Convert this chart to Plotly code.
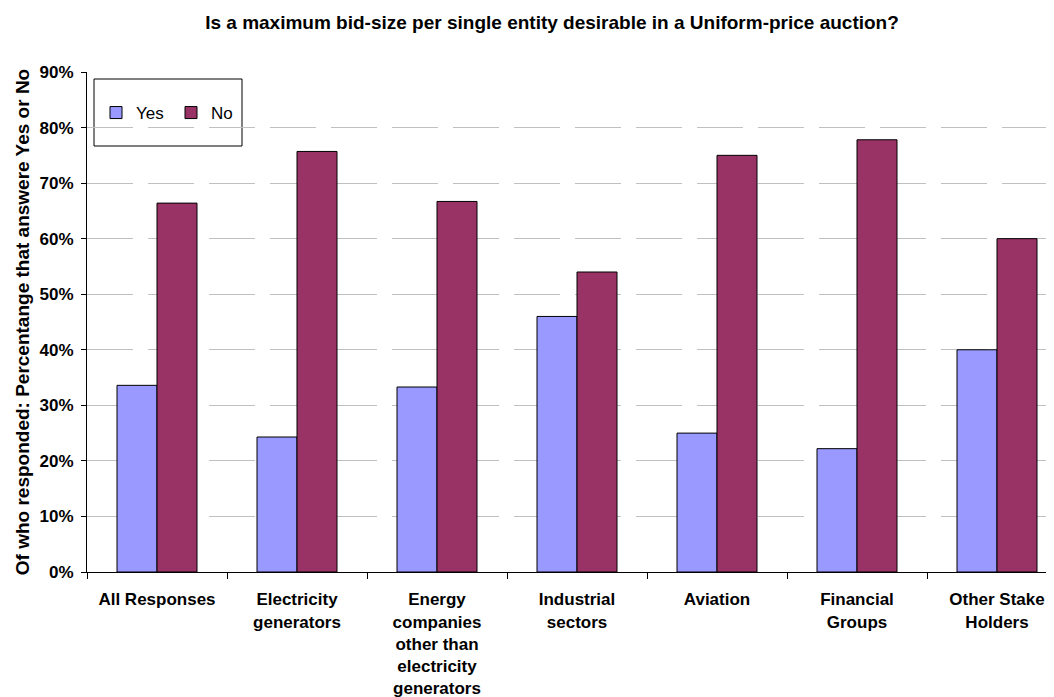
import plotly.graph_objects as go

categories = [
    "All Responses",
    "Electricity<br>generators",
    "Energy<br>companies<br>other than<br>electricity<br>generators",
    "Industrial<br>sectors",
    "Aviation",
    "Financial<br>Groups",
    "Other Stake<br>Holders",
]
yes_values = [33.6, 24.3, 33.3, 46.0, 25.0, 22.2, 40.0]
no_values = [66.4, 75.7, 66.7, 54.0, 75.0, 77.8, 60.0]
y_ticks = [0, 10, 20, 30, 40, 50, 60, 70, 80, 90]

FONT = "Liberation Sans, Arial, sans-serif"

fig = go.Figure()
fig.add_trace(go.Bar(
    name="Yes", x=categories, y=yes_values,
    marker=dict(color="#9999FF", line=dict(color="#000000", width=1)),
))
fig.add_trace(go.Bar(
    name="No", x=categories, y=no_values,
    marker=dict(color="#993366", line=dict(color="#000000", width=1)),
))

# the page body adds an 8px margin, so the figure is 8px smaller each way
OFF = 8
W, H = 1054 - OFF, 697 - OFF
ml, mr = 87 - OFF, 0
mt = 72 - OFF
mb = H - (572 - OFF)
PW = W - ml - mr
PH = H - mt - mb


def px(x):
    return (x - OFF - ml) / PW


def py(y):
    return (H - mb - (y - OFF)) / PH


fig.update_layout(
    width=W, height=H,
    margin=dict(l=ml, r=mr, t=mt, b=mb, autoexpand=False),
    paper_bgcolor="white", plot_bgcolor="white",
    barmode="group", bargap=0.4286, bargroupgap=0,
    font=dict(family=FONT, color="#000000", size=17),
    title=dict(
        text="<b>Is a maximum bid-size per single entity desirable in a Uniform-price auction?</b>",
        font=dict(size=19, family=FONT, color="#000000"),
        x=(552 - OFF) / W, xanchor="center", xref="container",
        y=1 - (22 - OFF) / H, yanchor="middle", yref="container",
    ),
    showlegend=True,
    legend=dict(
        orientation="h", x=px(96), xanchor="left",
        y=py(113), yanchor="middle",
        bgcolor="rgba(0,0,0,0)", borderwidth=0,
        font=dict(size=17, family=FONT, color="#000000"),
        itemwidth=30, traceorder="normal",
        entrywidth=30, entrywidthmode="pixels",
    ),
    shapes=[dict(
        type="rect", xref="paper", yref="paper",
        x0=px(94), x1=px(242), y0=py(146), y1=py(79),
        line=dict(color="#000000", width=1), fillcolor="white", layer="below",
    )],
)

fig.update_xaxes(
    type="category",
    range=[-0.5, -0.5 + PW / 140.0],
    showline=True, linecolor="#000000", linewidth=1,
    ticks="outside", tickson="boundaries", ticklen=6, tickcolor="#000000",
    showgrid=False, zeroline=False,
    tickfont=dict(size=17, family=FONT, color="#000000"),
    ticklabelstandoff=12,
    tickangle=0,
    tickvals=categories,
    ticktext=[f"<b>{c}</b>" for c in categories],
)
fig.update_yaxes(
    range=[0, 90], tickvals=y_ticks,
    ticktext=[f"<b>{v}%</b>" for v in y_ticks],
    showline=True, linecolor="#000000", linewidth=1,
    ticks="outside", ticklen=5, tickcolor="#000000",
    showgrid=True, gridcolor="#C0C0C0", gridwidth=1, griddash="46px,15px",
    zeroline=False,
    tickfont=dict(size=17, family=FONT, color="#000000"),
    ticklabelstandoff=4,
    title=dict(
        text="<b>Of who responded: Percentange that answere Yes or No</b>",
        font=dict(size=19, family=FONT, color="#000000"),
        standoff=4,
    ),
)

fig.write_html("out.html")
